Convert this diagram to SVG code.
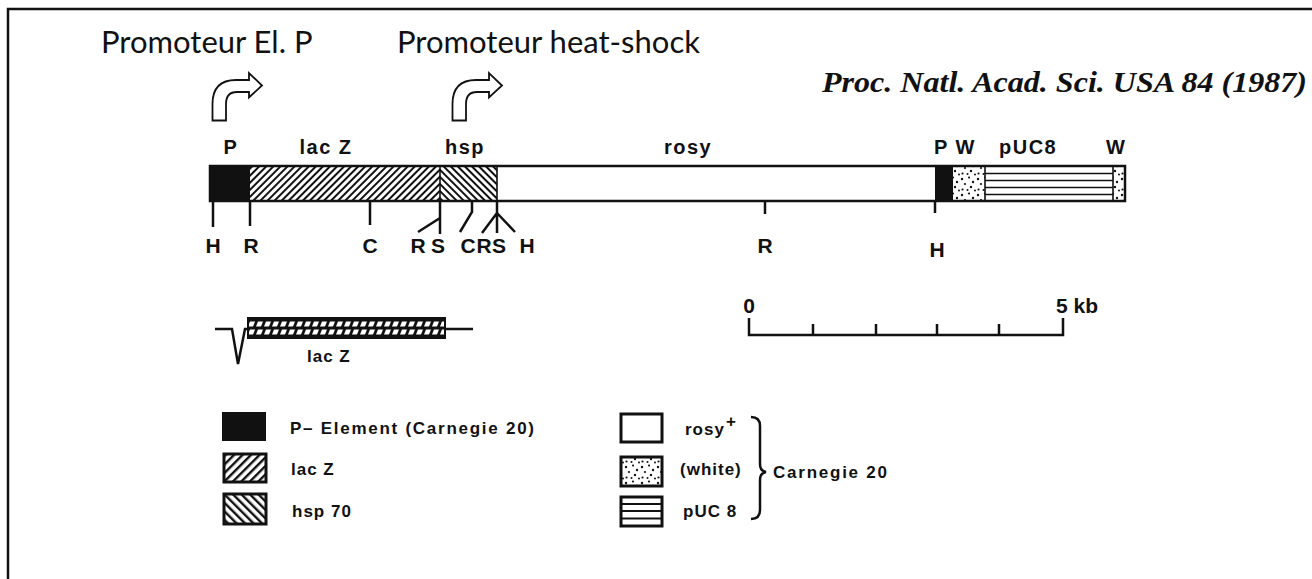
<svg xmlns="http://www.w3.org/2000/svg" width="1312" height="579" viewBox="0 0 1312 579">
<style>
.prom{font-family:Lato,"Open Sans","Liberation Sans",sans-serif;font-size:31px;fill:#111}
.lab{font-family:"Liberation Sans",Arial,sans-serif;font-weight:bold;font-size:20px;fill:#111;letter-spacing:1.5px}
.tk{font-family:"Liberation Sans",Arial,sans-serif;font-weight:bold;font-size:21px;fill:#111}
.leg{font-family:"Liberation Sans",Arial,sans-serif;font-weight:bold;font-size:17px;fill:#111;letter-spacing:1px}
.cit{font-family:"Liberation Serif","Times New Roman",serif;font-style:italic;font-weight:bold;font-size:29px;fill:#111}
.ln{stroke:#111;stroke-width:2.5;fill:none}
.thin{stroke:#111;stroke-width:1.6;fill:none}
.arrow{fill:#fff;stroke:#111;stroke-width:1.8;stroke-linejoin:miter}
</style>
<defs>
<pattern id="fwd" patternUnits="userSpaceOnUse" width="5" height="10" patternTransform="rotate(45)">
<rect width="5" height="10" fill="#fff"/><rect width="2" height="10" fill="#111"/>
</pattern>
<pattern id="back" patternUnits="userSpaceOnUse" width="5" height="10" patternTransform="rotate(-45)">
<rect width="5" height="10" fill="#fff"/><rect width="2" height="10" fill="#111"/>
</pattern>
<pattern id="fwdL" patternUnits="userSpaceOnUse" width="6" height="10" patternTransform="rotate(45)">
<rect width="6" height="10" fill="#fff"/><rect width="2.4" height="10" fill="#111"/>
</pattern>
<pattern id="backL" patternUnits="userSpaceOnUse" width="6" height="10" patternTransform="rotate(-45)">
<rect width="6" height="10" fill="#fff"/><rect width="2.4" height="10" fill="#111"/>
</pattern>
<pattern id="dots" patternUnits="userSpaceOnUse" width="16" height="16">
<rect width="16" height="16" fill="#fff"/>
<g fill="#111"><circle cx="2" cy="3" r="1.2"/><circle cx="9" cy="1.5" r="1.1"/><circle cx="13" cy="6" r="1.2"/><circle cx="5" cy="8" r="1.1"/><circle cx="11" cy="11" r="1.2"/><circle cx="2.5" cy="13.5" r="1.1"/><circle cx="7.5" cy="14" r="1"/><circle cx="15" cy="14.5" r="1"/></g>
</pattern>
<pattern id="lzins" patternUnits="userSpaceOnUse" width="8" height="20" x="248" y="318">
<rect width="8" height="20" fill="#111"/>
<polygon points="2,3.5 7,3.5 5,8.5 0,8.5" fill="#fff"/>
<polygon points="2,11.5 7,11.5 5,16.5 0,16.5" fill="#fff"/>
</pattern>
</defs>

<g id="frame"><path d="M1313,9 H8 V580" class="ln" stroke-width="2"/></g>

<g id="promoter-p">
<text class="prom" x="101" y="53">Promoteur El. P</text>
<path class="arrow" d="M212.5,120.5 L212.5,104 Q212.5,80 236,80 L249,80 L249,73 L262,85.5 L249,97.5 L249,92 L237,92 Q226,92 226,104 L226,120.5 Z"/>
</g>
<g id="promoter-hs">
<text class="prom" x="397" y="53">Promoteur heat-shock</text>
<path class="arrow" d="M452.5,120.5 L452.5,104 Q452.5,80 476,80 L489,80 L489,73 L502,85.5 L489,97.5 L489,92 L477,92 Q466,92 466,104 L466,120.5 Z"/>
</g>

<g id="citation"><text class="cit" x="822" y="92" textLength="485" lengthAdjust="spacingAndGlyphs">Proc. Natl. Acad. Sci. USA 84 (1987)</text></g>

<g id="map">
<rect x="210" y="166" width="40" height="35" fill="#111"/>
<rect x="250" y="166" width="190" height="35" fill="url(#fwd)"/>
<rect x="440" y="166" width="57" height="35" fill="url(#back)"/>
<rect x="497" y="166" width="438" height="35" fill="#fff"/>
<rect x="935" y="166" width="18" height="35" fill="#111"/>
<rect x="953" y="166" width="32" height="35" fill="url(#dots)"/>
<rect x="985" y="166" width="128" height="35" fill="#fff"/>
<path class="thin" d="M985,173.5 H1113 M985,180.5 H1113 M985,187.5 H1113 M985,194.5 H1113"/>
<rect x="1113" y="166" width="12" height="35" fill="url(#dots)"/>
<path class="ln" d="M210,166 H1125 V201 H210 Z"/>
<path class="thin" d="M440,166 V201 M497,166 V201 M1113,166 V201 M985,166 V201"/>
<text class="lab" x="231" y="154" text-anchor="middle">P</text>
<text class="lab" x="326" y="154" text-anchor="middle">lac Z</text>
<text class="lab" x="465" y="154" text-anchor="middle">hsp</text>
<text class="lab" x="688" y="154" text-anchor="middle">rosy</text>
<text class="lab" x="934" y="154">P W</text>
<text class="lab" x="999" y="154">pUC8</text>
<text class="lab" x="1106" y="154">W</text>
</g>

<g id="sites">
<path class="ln" d="M213,201 V227 M250,201 V226 M370,201 V225 M440,201 V234 M440,218 L418,232 M472,201 V212 L460,232 M497,201 V233 M497,213 L482,233 M497,213 L515,232 M765,201 V214 M935,201 V213"/>
<g class="tk" text-anchor="middle">
<text x="213" y="253">H</text><text x="251" y="253">R</text><text x="370" y="253">C</text>
<text x="418" y="253">R</text><text x="438" y="253">S</text><text x="468" y="253">C</text>
<text x="484" y="253">R</text><text x="499" y="253">S</text><text x="527" y="253">H</text>
<text x="765" y="253">R</text><text x="937" y="257">H</text>
</g>
</g>

<g id="insert">
<path class="ln" d="M215,329 H232 L238,364 L245,329 H248 M445,329 H473"/>
<rect x="248" y="318" width="197" height="20" fill="url(#lzins)" stroke="#111" stroke-width="2"/>
<path d="M248,328 H445" stroke="#111" stroke-width="2"/>
<text class="leg" x="307" y="362">lac Z</text>
</g>

<g id="scale">
<path class="ln" d="M749,318 V335 H1063 V318 M813,324 V335 M876,324 V335 M937,324 V335 M999,324 V335"/>
<text class="tk" x="749" y="313" text-anchor="middle">0</text>
<text class="tk" x="1056" y="313">5 kb</text>
</g>

<g id="legend-p">
<rect x="222" y="412" width="44" height="29" fill="#111"/>
<text class="leg" x="290" y="434" textLength="245" lengthAdjust="spacing">P– Element (Carnegie 20)</text>
</g>
<g id="legend-lacz">
<rect x="224" y="454" width="42" height="28" fill="url(#fwdL)" stroke="#111" stroke-width="3"/>
<text class="leg" x="291" y="475">lac Z</text>
</g>
<g id="legend-hsp">
<rect x="224" y="494" width="42" height="30" fill="url(#backL)" stroke="#111" stroke-width="3"/>
<text class="leg" x="292" y="517">hsp 70</text>
</g>
<g id="legend-rosy">
<rect x="621" y="414" width="41" height="28" fill="#fff" stroke="#111" stroke-width="3"/>
<text class="leg" x="685" y="435">rosy</text>
<text class="leg" x="726" y="427" font-size="13">+</text>
</g>
<g id="legend-white">
<rect x="621" y="457" width="41" height="29" fill="url(#dots)" stroke="#111" stroke-width="3"/>
<text class="leg" x="680" y="475">(white)</text>
</g>
<g id="legend-puc">
<rect x="621" y="497" width="41" height="29" fill="#fff" stroke="#111" stroke-width="3"/>
<path d="M621,504 H662 M621,511 H662 M621,518.5 H662" stroke="#111" stroke-width="2"/>
<text class="leg" x="683" y="517">pUC 8</text>
</g>
<g id="brace">
<path class="ln" stroke-width="2" d="M751,417 Q760,417 760,426 V464 Q760,471 766,472 Q760,473 760,480 V510 Q760,519 751,519"/>
<text class="leg" x="773" y="478" textLength="115" lengthAdjust="spacing">Carnegie 20</text>
</g>
</svg>
